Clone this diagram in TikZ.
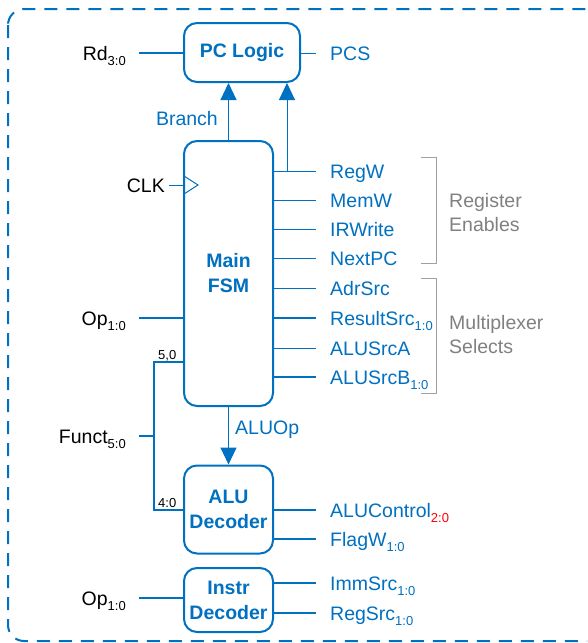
\documentclass[tikz,border=0pt]{standalone}
\usepackage{fontspec}
\setmainfont{Liberation Sans}
\usetikzlibrary{arrows.meta}
\definecolor{cblue}{RGB}{0,112,192}
\definecolor{cgray}{RGB}{128,128,128}
\definecolor{bgray}{RGB}{160,160,160}
\newcommand{\sbs}[1]{\raisebox{-5pt}{\fontsize{13}{13}\selectfont #1}}
\tikzset{
  blk/.style={draw=cblue, line width=2pt, rounded corners=13pt, text=cblue,
    font=\fontsize{19.5}{25}\selectfont\bfseries, align=center, inner sep=0pt},
  lbl/.style={font=\fontsize{19.5}{23}\selectfont, text height=14pt, text depth=0pt, inner sep=0pt},
  outl/.style={lbl, text=cblue, anchor=west},
  inl/.style={lbl, text=black, anchor=east},
  grl/.style={lbl, text=cgray, anchor=west},
  small/.style={font=\fontsize{13}{13}\selectfont, inner sep=0pt, anchor=base west},
  thk/.style={draw=cblue, line width=2pt},
  thn/.style={draw=cblue, line width=1pt},
  arr/.style={thn, -{Triangle[length=17pt,width=16pt]}},
  brk/.style={draw=bgray, line width=1pt},
}
\begin{document}
\begin{tikzpicture}[x=1pt,y=-1pt]
\clip (0,0) rectangle (587,643);
% border
\draw[cblue, line width=2pt, dash pattern=on 13pt off 9pt, rounded corners=16pt] (8,9) rectangle (640,641);
% blocks
\node[blk, minimum width=116pt, minimum height=59pt] (pc) at (242,52.5) {PC Logic};
\node[blk, minimum width=89pt, minimum height=265pt] (fsm) at (228.5,273.5) {Main\\FSM};
\node[blk, minimum width=89pt, minimum height=88pt] (alu) at (228.5,509.5) {ALU\\Decoder};
\node[blk, minimum width=89pt, minimum height=64pt] (ins) at (228.5,600) {Instr\\Decoder};
% inputs
\node[inl] (rd) at (126,53) {Rd\sbs{3:0}};
\node[inl] (clk) at (165,185) {CLK};
\node[inl] (op1) at (126,318) {Op\sbs{1:0}};
\node[inl] (fun) at (126,436) {Funct\sbs{5:0}};
\node[inl] (op2) at (126,598) {Op\sbs{1:0}};
\draw[thk] ([xshift=13pt]rd.east) -- (pc.west |- rd);
\draw[thn] ([xshift=4pt]clk.east) -- (fsm.west |- clk);
\draw[thn] (184,176) -- (198,185) -- (184,194);
\draw[thk] ([xshift=13pt]op1.east) -- (fsm.west |- op1);
\draw[thk] ([xshift=13pt]op2.east) -- (ins.west |- op2);
\coordinate (fj) at (154,436);
\coordinate (ft) at (154,362);
\coordinate (fb) at (154,510);
\draw[thk] ([xshift=13pt]fun.east) -- (fj);
\draw[thk] (fsm.west |- ft) -- (ft) -- (fb) -- (alu.west |- fb);
\node[small] (s50) at (158,359) {5,0};
\node[small] (s40) at (158,507) {4:0};
% PCS
\node[outl] (pcs) at (330,53) {PCS};
\draw[thn] (pc.east |- pcs) -- ([xshift=-14pt]pcs.west);
% FSM outputs
\node[outl] (regw) at (330,171) {RegW};
\node[outl] (memw) at (330,200) {MemW};
\node[outl] (irw) at (330,229) {IRWrite};
\node[outl] (npc) at (330,258) {NextPC};
\node[outl] (adr) at (330,288) {AdrSrc};
\node[outl] (res) at (330,318) {ResultSrc\sbs{1:0}};
\node[outl] (asa) at (330,348) {ALUSrcA};
\node[outl] (asb) at (330,377) {ALUSrcB\sbs{1:0}};
\foreach \n in {regw,memw,irw,npc,adr,asa}
  \draw[thn] (fsm.east |- \n) -- ([xshift=-14pt]\n.west);
\foreach \n in {res,asb}
  \draw[thk] (fsm.east |- \n) -- ([xshift=-14pt]\n.west);
% arrows to PC logic
\node[outl, anchor=east] (br) at (218,118) {Branch};
\draw[arr] (fsm.north) -- (fsm.north |- pc.south);
\coordinate (tap) at (287,171);
\draw[arr] (tap) -- (tap |- pc.south);
% ALUOp
\node[outl] (aluop) at (235,427) {ALUOp};
\draw[arr] (fsm.south) -- (alu.north);
% ALU decoder outputs
\node[outl] (ctl) at (330,510) {ALUControl\textcolor{red}{\sbs{2:0}}};
\node[outl] (flw) at (330,539) {FlagW\sbs{1:0}};
\node[outl] (imm) at (330,583) {ImmSrc\sbs{1:0}};
\node[outl] (rsc) at (330,613) {RegSrc\sbs{1:0}};
\draw[thk] (alu.east |- ctl) -- ([xshift=-14pt]ctl.west);
\draw[thk] (alu.east |- flw) -- ([xshift=-14pt]flw.west);
\draw[thk] (ins.east |- imm) -- ([xshift=-14pt]imm.west);
\draw[thk] (ins.east |- rsc) -- ([xshift=-14pt]rsc.west);
% brackets
\draw[brk] (421,157) -- (436,157) -- (436,263) -- (421,263);
\draw[brk] (421,278) -- (436,278) -- (436,393) -- (421,393);
\node[grl] (re1) at (449,200) {Register};
\node[grl] (re2) at (449,224) {Enables};
\node[grl] (ms1) at (449,322) {Multiplexer};
\node[grl] (ms2) at (449,346) {Selects};
\end{tikzpicture}
\end{document}
